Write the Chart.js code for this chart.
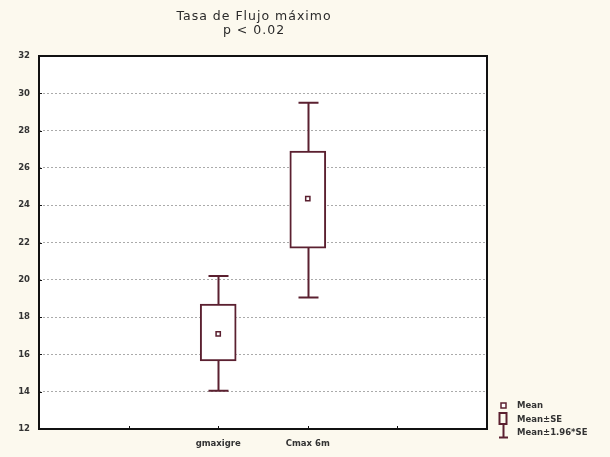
<!DOCTYPE html>
<html>
<head>
<meta charset="utf-8">
<script src="https://cdn.jsdelivr.net/npm/chart.js@4/dist/chart.umd.min.js"></script>
<style>
  html, body { margin: 0; padding: 0; background: #fcf9ee; }
  #wrap { width: 610px; height: 457px; }
</style>
</head>
<body>
<div id="wrap"><canvas id="c" width="610" height="457"></canvas></div>
<script>
// Groups and their summary statistics (mean, mean±SE, mean±1.96*SE)
const categories = ['gmaxigre', 'Cmax 6m'];
const means      = [17.1, 24.35];
const seLow      = [15.65, 21.7];
const seHigh     = [18.7, 26.9];
const ciLow      = [14.05, 19.05];
const ciHigh     = [20.2, 29.5];
const yTicks     = [12, 14, 16, 18, 20, 22, 24, 26, 28, 30, 32];
const titleLines = ['Tasa de Flujo máximo', 'p < 0.02'];
const legendLabels = ['Mean', 'Mean±SE', 'Mean±1.96*SE'];

const MAROON = '#5b2030';
const FIRST_SLOT = 2;   // groups sit on slots 2 and 3 of a 0..5 axis
const slotOf = i => i + FIRST_SLOT;

const boxData  = categories.map((c, i) => ({ x: slotOf(i), y: [seLow[i], seHigh[i]] }));
const meanData = categories.map((c, i) => ({ x: slotOf(i), y: means[i] }));

const framePlugin = {
  id: 'frame',
  beforeDraw(chart) {
    const { ctx, chartArea: a } = chart;
    ctx.save();
    ctx.fillStyle = '#fcf9ee';
    ctx.fillRect(0, 0, chart.width, chart.height);
    ctx.fillStyle = '#ffffff';
    ctx.fillRect(a.left, a.top, a.right - a.left, a.bottom - a.top);
    ctx.restore();
  },
  afterDraw(chart) {
    const { ctx, chartArea: a, scales } = chart;
    ctx.save();
    ctx.strokeStyle = '#111';
    ctx.lineWidth = 2;
    ctx.strokeRect(a.left, a.top, a.right - a.left, a.bottom - a.top);
    // short inward tick marks
    ctx.lineWidth = 1;
    ctx.beginPath();
    yTicks.slice(1, -1).forEach(v => {
      const y = Math.round(scales.y.getPixelForValue(v)) + 0.5;
      ctx.moveTo(a.left, y); ctx.lineTo(a.left + 3, y);
    });
    [1, 2, 3, 4].forEach(v => {
      const x = Math.round(scales.x.getPixelForValue(v)) + 0.5;
      ctx.moveTo(x, a.bottom); ctx.lineTo(x, a.bottom - 3);
    });
    ctx.stroke();

    // title, centred over the plot
    ctx.fillStyle = '#2a2a2a';
    ctx.font = '12.5px "DejaVu Sans"';
    ctx.letterSpacing = '1px';
    ctx.textAlign = 'center';
    ctx.textBaseline = 'middle';
    const cx = (a.left + a.right) / 2 - 9;
    ctx.fillText(titleLines[0], cx, 17);
    ctx.fillText(titleLines[1], cx, 31);
    ctx.letterSpacing = '0px';

    // legend
    const lx = 503, tx = 517;
    ctx.strokeStyle = MAROON;
    ctx.fillStyle = '#fff';
    ctx.lineWidth = 1.5;
    ctx.fillRect(lx - 2, 403, 5, 5);
    ctx.strokeRect(lx - 2, 403, 5, 5);
    ctx.lineWidth = 2;
    ctx.strokeRect(lx - 3.5, 413, 7, 11);
    ctx.beginPath();
    ctx.moveTo(lx + 0.5, 424); ctx.lineTo(lx + 0.5, 437.5);
    ctx.moveTo(lx - 4, 437.5); ctx.lineTo(lx + 5, 437.5);
    ctx.stroke();
    ctx.fillStyle = '#333';
    ctx.font = 'bold 8.5px "DejaVu Sans"';
    ctx.textAlign = 'left';
    [406, 419.5, 433].forEach((y, i) => ctx.fillText(legendLabels[i], tx, y));
    ctx.restore();
  }
};

const whiskerPlugin = {
  id: 'whiskers',
  beforeDatasetsDraw(chart) {
    const { ctx, scales } = chart;
    ctx.save();
    ctx.strokeStyle = MAROON;
    ctx.lineWidth = 2;
    categories.forEach((c, i) => {
      const x = Math.round(scales.x.getPixelForValue(slotOf(i))) + 0.5;
      const yHi = scales.y.getPixelForValue(ciHigh[i]);
      const yLo = scales.y.getPixelForValue(ciLow[i]);
      const bHi = scales.y.getPixelForValue(seHigh[i]);
      const bLo = scales.y.getPixelForValue(seLow[i]);
      ctx.beginPath();
      ctx.moveTo(x, yHi); ctx.lineTo(x, bHi);
      ctx.moveTo(x, bLo); ctx.lineTo(x, yLo);
      ctx.moveTo(x - 10, yHi); ctx.lineTo(x + 10, yHi);
      ctx.moveTo(x - 10, yLo); ctx.lineTo(x + 10, yLo);
      ctx.stroke();
    });
    ctx.restore();
  }
};

new Chart(document.getElementById('c'), {
  type: 'bar',
  data: {
    datasets: [
      {
        type: 'bar',
        label: 'Mean±SE',
        data: boxData,
        backgroundColor: '#ffffff',
        borderColor: MAROON,
        borderWidth: 2,
        borderSkipped: false,
        barThickness: 36,
        order: 2
      },
      {
        type: 'scatter',
        label: 'Mean',
        data: meanData,
        pointStyle: 'rect',
        pointRadius: 3,
        pointBackgroundColor: '#ffffff',
        pointBorderColor: MAROON,
        pointBorderWidth: 1.5,
        order: 1
      }
    ]
  },
  options: {
    responsive: false,
    animation: false,
    devicePixelRatio: 1,
    layout: { padding: { left: 0, right: 123, top: 56, bottom: 0 } },
    plugins: {
      legend: { display: false },
      tooltip: { enabled: false },
      title: { display: false }
    },
    scales: {
      x: {
        type: 'linear',
        min: 0,
        max: 5,
        offset: false,
        grid: { display: false, drawTicks: false, offset: false },
        border: { display: false },
        afterBuildTicks: s => { s.ticks = [0, 1, 2, 3, 4, 5].map(v => ({ value: v })); },
        ticks: {
          autoSkip: false,
          maxRotation: 0,
          padding: 10,
          color: '#333',
          font: { family: '"DejaVu Sans"', size: 8.5, weight: 'bold' },
          callback: v => {
            const i = v - FIRST_SLOT;
            return (i >= 0 && i < categories.length) ? categories[i] : '';
          }
        },
        afterFit: s => { s.height = 28; }
      },
      y: {
        min: yTicks[0],
        max: yTicks[yTicks.length - 1],
        afterBuildTicks: s => { s.ticks = yTicks.map(v => ({ value: v })); },
        grid: {
          color: ctx => (ctx.tick && (ctx.tick.value === yTicks[0] || ctx.tick.value === yTicks[yTicks.length - 1])) ? 'rgba(0,0,0,0)' : '#aaaaaa',
          lineWidth: 1,
          drawTicks: false
        },
        border: { display: false, dash: [2, 2] },
        ticks: {
          padding: 9,
          color: '#333',
          font: { family: '"DejaVu Sans"', size: 8.5, weight: 'bold' }
        },
        afterFit: s => { s.width = 39; }
      }
    }
  },
  plugins: [framePlugin, whiskerPlugin]
});
</script>
</body>
</html>
